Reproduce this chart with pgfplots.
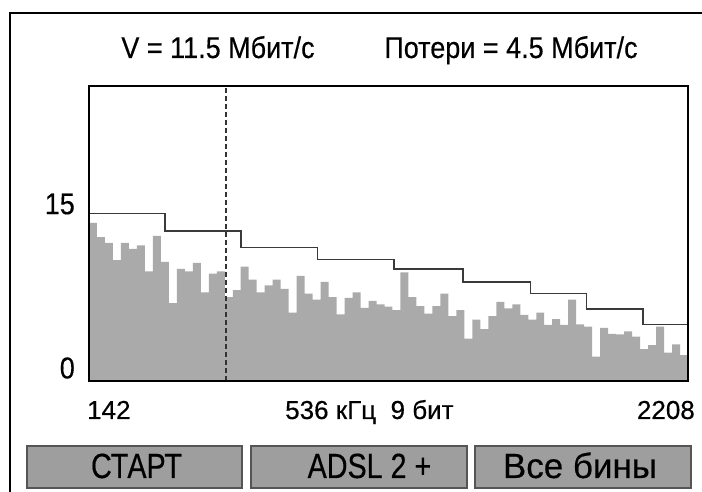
\documentclass[border=0pt]{standalone}
\usepackage{fontspec}
\setmainfont{Liberation Sans}
\newfontfamily\lsf{Liberation Sans}[FakeBold=0.4]
\newfontfamily\lsn{Liberation Sans}[FakeStretch=0.9, FakeBold=0.4]
\newfontfamily\lsnn{Liberation Sans}[FakeStretch=0.82, FakeBold=0.4]
\usepackage{pgfplots}
\pgfplotsset{compat=1.18}
\usetikzlibrary{calc}
\definecolor{bargray}{HTML}{AAAAAA}
\definecolor{stepgray}{HTML}{3A3A3A}
\definecolor{btngray}{HTML}{9E9E9E}
\definecolor{btnedge}{HTML}{555555}
\newcommand{\lbl}{\lsf\fontsize{26bp}{28bp}\selectfont}
\newcommand{\ttl}{\lsn\fontsize{30bp}{32bp}\selectfont}

\begin{document}
\begin{tikzpicture}[x=1bp,y=1bp]
\begin{axis}[
  name=ax,
  scale only axis, width=599bp, height=295bp,
  xmin=0, xmax=75, ymin=0, ymax=25,
  xtick=\empty,
  ytick={1.1,15}, yticklabels={0,15},
  major tick length=0pt,
  yticklabel style={font=\lsn\fontsize{30bp}{32bp}\selectfont, anchor=east, inner sep=0pt, xshift=-14bp},
  axis line style={line width=2.5bp, black},
  axis on top,
]
% bits per bin
\addplot[const plot mark left, fill=bargray, draw=none] coordinates {
 (0,13.4) (1,12.2) (2,11.7) (3,10.25) (4,11.7) (5,11.2) (6,11.5) (7,9.3) (8,12.3) (9,10.1)
 (10,6.6) (11,9.5) (12,9.3) (13,10.0) (14,7.5) (15,9.1) (16,9.3) (17,7.1) (18,7.7) (19,9.7)
 (20,8.6) (21,7.5) (22,8.1) (23,8.6) (24,7.8) (25,5.8) (26,8.9) (27,7.4) (28,6.9) (29,8.4)
 (30,7.1) (31,5.65) (32,7.05) (33,7.5) (34,6.2) (35,6.8) (36,6.5) (37,6.3) (38,6.0) (39,9.2)
 (40,7.1) (41,6.35) (42,5.7) (43,6.35) (44,7.4) (45,5.5) (46,6.0) (47,3.6) (48,5.2) (49,4.4)
 (50,5.5) (51,6.7) (52,6.15) (53,6.5) (54,5.6) (55,5.2) (56,5.8) (57,4.75) (58,5.25) (59,4.75)
 (60,6.9) (61,4.8) (62,4.6) (63,2.06) (64,4.5) (65,4.0) (66,3.95) (67,4.2) (68,3.75) (69,2.7)
 (70,3.05) (71,4.6) (72,2.4) (73,3.1) (74,2.2) (75,2.2)
} \closedcycle;
% limit line
\addplot[const plot mark left, draw=stepgray, line width=1.6bp] coordinates {
 (0,14.2) (9.5,12.7) (19,11.3) (28.6,10.3) (38.2,9.5) (46.8,8.4) (55.3,7.4) (62.3,6.1) (69.4,4.8) (75,4.8)
};
% marker
\addplot[black!80, line width=1.2bp, dash pattern=on 5bp off 3bp] coordinates {(17.15,0) (17.15,25)};
\end{axis}

\begin{scope}[shift={($(ax.south west)+(-89,-111)$)}]
\path[use as bounding box] (0,0) rectangle (702,492);
\begin{scope}
\clip (0,0) rectangle (702,492);
\draw[line width=2bp] (10,-20) -- (10,479) -- (720,479);
\end{scope}

% header
\node[anchor=base, inner sep=0pt] at (218,434) {\ttl V = 11.5 Мбит/с};
\node[anchor=base, inner sep=0pt] at (511,434) {\ttl Потери = 4.5 Мбит/с};

% frequency labels
\node[anchor=base west, inner sep=0pt] at (87,73) {\lbl 142};
\node[anchor=base west, inner sep=0pt] at (285,73) {\lbl 536 кГц\ \ 9 бит};
\node[anchor=base east, inner sep=0pt] at (695,73) {\lbl 2208};

% buttons
\draw[btnedge, fill=btngray, line width=1.5bp] (27,4) rectangle (242,46);
\draw[btnedge, fill=btngray, line width=1.5bp] (251,4) rectangle (467,46);
\draw[btnedge, fill=btngray, line width=1.5bp] (475,4) rectangle (691,46);
\node[anchor=base, inner sep=0pt] at (136.5,14) {\lsnn\fontsize{35bp}{38bp}\selectfont СТАРТ};
\node[anchor=base, inner sep=0pt] at (369.5,14) {\lsnn\fontsize{35bp}{38bp}\selectfont ADSL 2 +};
\node[anchor=base, inner sep=0pt] at (580,14) {\lsf\fontsize{35bp}{38bp}\selectfont Все бины};
\end{scope}
\end{tikzpicture}
\end{document}
